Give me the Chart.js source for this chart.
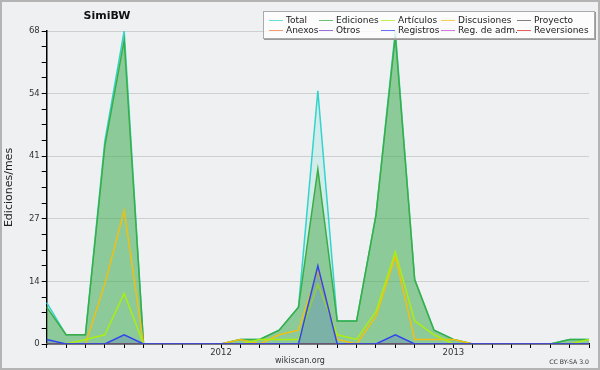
<!DOCTYPE html>
<html>
<head>
<meta charset="utf-8">
<script src="https://cdn.jsdelivr.net/npm/chart.js@4.4.0/dist/chart.umd.min.js"></script>
<style>
  html, body { margin: 0; padding: 0; background: #eef0f1; }
  #wrap { position: relative; width: 600px; height: 370px; font-family: "DejaVu Sans", sans-serif; color: #222; }
  #c { position: absolute; left: 0; top: 0; }
  #frame { position: absolute; left: 0; top: 0; width: 600px; height: 370px; box-sizing: border-box; border: 2px solid #b4b4b4; pointer-events: none; }
  #title { position: absolute; left: 60px; width: 94px; top: 9px; line-height: 13px; text-align: center; font-weight: bold; font-size: 11px; color: #111; }
  #legend { position: absolute; left: 263px; top: 11px; width: 332px; height: 28px; box-sizing: border-box;
            background: rgba(255,255,255,0.8); border: 1px solid #aaa; box-shadow: 1px 1px 0 #999; }
  .item { position: absolute; font-size: 9px; line-height: 10px; white-space: nowrap; color: #222; }
  .sw { position: absolute; width: 14px; height: 1px; top: 5px; left: -17px; opacity: 0.75; }
  #site { position: absolute; left: 250px; width: 100px; top: 356px; line-height: 10px; text-align: center; font-size: 8px; color: #333; }
  #lic { position: absolute; right: 11px; top: 357px; line-height: 9px; font-size: 6.2px; color: #333; }
</style>
</head>
<body>
<div id="wrap">
  <canvas id="c" width="600" height="370"></canvas>
  <div id="title">SimiBW</div>
  <div id="legend"></div>
  <div id="site">wikiscan.org</div>
  <div id="lic">CC BY-SA 3.0</div>
  <div id="frame"></div>
</div>
<script>
  // ── 数据 ──
  const months = ['2011-04','2011-05','2011-06','2011-07','2011-08','2011-09','2011-10','2011-11','2011-12',
                  '2012-01','2012-02','2012-03','2012-04','2012-05','2012-06','2012-07','2012-08','2012-09',
                  '2012-10','2012-11','2012-12','2013-01','2013-02','2013-03','2013-04','2013-05','2013-06',
                  '2013-07','2013-08'];
  const total       = [9, 2, 2, 44, 68, 0, 0, 0, 0, 0, 1, 1, 3, 8, 55, 5, 5, 28, 68, 14, 3, 1, 0, 0, 0, 0, 0, 1, 1];
  const ediciones   = [8, 2, 2, 43, 66, 0, 0, 0, 0, 0, 1, 1, 3, 8, 38, 5, 5, 28, 67, 14, 3, 1, 0, 0, 0, 0, 0, 1, 1];
  const articulos   = [0, 0, 1, 2, 11, 0, 0, 0, 0, 0, 0, 1, 1, 1, 13, 2, 1, 7, 20, 5, 2, 0, 0, 0, 0, 0, 0, 0, 1];
  const discusiones = [0, 0, 0, 13, 29, 0, 0, 0, 0, 0, 1, 0, 2, 3, 16, 1, 0, 6, 19, 1, 1, 1, 0, 0, 0, 0, 0, 0, 0];
  const proyecto    = [0, 0, 0, 0, 0, 0, 0, 0, 0, 0, 0, 0, 0, 0, 0, 0, 0, 0, 0, 0, 0, 0, 0, 0, 0, 0, 0, 0, 0];
  const anexos      = [0, 0, 0, 0, 0, 0, 0, 0, 0, 0, 0, 0, 0, 0, 0, 0, 0, 0, 0, 0, 0, 0, 0, 0, 0, 0, 0, 0, 0];
  const otros       = [0, 0, 0, 0, 0, 0, 0, 0, 0, 0, 0, 0, 0, 0, 0, 0, 0, 0, 0, 0, 0, 0, 0, 0, 0, 0, 0, 0, 0];
  const registros   = [1, 0, 0, 0, 2, 0, 0, 0, 0, 0, 0, 0, 0, 0, 17, 0, 0, 0, 2, 0, 0, 0, 0, 0, 0, 0, 0, 0, 0];
  const regAdm      = [0, 0, 0, 0, 0, 0, 0, 0, 0, 0, 0, 0, 0, 0, 0, 0, 0, 0, 0, 0, 0, 0, 0, 0, 0, 0, 0, 0, 0];
  const reversiones = [0, 0, 0, 0, 0, 0, 0, 0, 0, 0, 0, 0, 0, 0, 0, 0, 0, 0, 0, 0, 0, 0, 0, 0, 0, 0, 0, 0, 0];

  const yTicks      = [0, 13.6, 27.2, 40.8, 54.4, 68];
  const yTickLabels = ['0', '14', '27', '41', '54', '68'];

  const FONT = '"DejaVu Sans", sans-serif';

  // label, data, line colour, fill colour (or null), draw order (higher = further back)
  const series = [
    ['Total',        total,       '#33d4cc', 'rgba(60,215,200,0.16)', 10],
    ['Ediciones',    ediciones,   '#3aae44', 'rgba(72,168,72,0.5)',   9],
    ['Artículos',    articulos,   '#aaee11', null,                    7],
    ['Discusiones',  discusiones, '#f0c010', null,                    8],
    ['Proyecto',     proyecto,    '#555555', null,                    6],
    ['Anexos',       anexos,      '#f07a3a', null,                    6],
    ['Otros',        otros,       '#7a3cc8', null,                    6],
    ['Registros',    registros,   '#3344ee', 'rgba(51,68,238,0.18)',  1],
    ['Reg. de adm.', regAdm,      '#c848d8', null,                    6],
    ['Reversiones',  reversiones, '#e02828', null,                    6],
  ];

  const datasets = series.map(([label, data, color, fillColor, order]) => ({
    label, data, order,
    borderColor: color,
    backgroundColor: fillColor || color,
    borderWidth: 1.5,
    fill: fillColor ? 'origin' : false,
    pointRadius: 0,
    tension: 0,
  }));

  // ── 图例 ──
  const legendCols = [22, 72, 134, 194, 270];
  const legendRows = [2.5, 12.5];
  const legendEl = document.getElementById('legend');
  series.forEach(([label, , color], i) => {
    const item = document.createElement('div');
    item.className = 'item';
    item.style.left = legendCols[i % 5] + 'px';
    item.style.top = legendRows[Math.floor(i / 5)] + 'px';
    const sw = document.createElement('span');
    sw.className = 'sw';
    sw.style.background = color;
    item.appendChild(sw);
    item.appendChild(document.createTextNode(label));
    legendEl.appendChild(item);
  });

  const isMajor = v => yTicks.some(t => Math.abs(t - v) < 1e-6);

  new Chart(document.getElementById('c').getContext('2d'), {
    type: 'line',
    data: { labels: months, datasets },
    options: {
      responsive: false,
      animation: false,
      devicePixelRatio: 1,
      layout: { padding: { top: 31, right: 11, bottom: 0, left: 0 } },
      plugins: { legend: { display: false }, tooltip: { enabled: false } },
      scales: {
        x: {
          type: 'category',
          offset: false,
          z: 1,
          border: { color: '#000', width: 1.5 },
          grid: { drawOnChartArea: false, drawTicks: true, tickLength: 4, color: '#000', tickColor: '#000' },
          ticks: {
            autoSkip: false, maxRotation: 0, padding: 0, color: '#333',
            font: { family: FONT, size: 8.5 },
            callback: (v, i) => months[i].endsWith('-01') ? months[i].slice(0, 4) : '',
          },
          afterFit: s => { s.height = 26; },
        },
        y: {
          min: 0, max: 68,
          border: { color: '#000', width: 1.5 },
          grid: {
            tickLength: 5, tickColor: '#000', lineWidth: 1,
            color: ctx => (ctx.tick && ctx.tick.value > 0 && isMajor(ctx.tick.value)) ? '#cfcfcf' : 'rgba(0,0,0,0)',
          },
          afterBuildTicks: s => {
            const t = [];
            for (let i = 0; i < yTicks.length - 1; i++) {
              const step = (yTicks[i + 1] - yTicks[i]) / 4;
              for (let k = 0; k < 4; k++) t.push({ value: yTicks[i] + step * k });
            }
            t.push({ value: yTicks[yTicks.length - 1] });
            s.ticks = t;
          },
          ticks: {
            color: '#333', padding: 2,
            font: { family: FONT, size: 8.5 },
            callback: v => {
              const i = yTicks.findIndex(t => Math.abs(t - v) < 1e-6);
              return i >= 0 ? yTickLabels[i] : '';
            },
          },
          title: {
            display: true, text: 'Ediciones/mes', color: '#222',
            font: { family: FONT, size: 11 }, padding: { top: 3, bottom: 0 },
          },
          afterFit: s => { s.width = 46.7; },
        },
      },
    },
  });
</script>
</body>
</html>
